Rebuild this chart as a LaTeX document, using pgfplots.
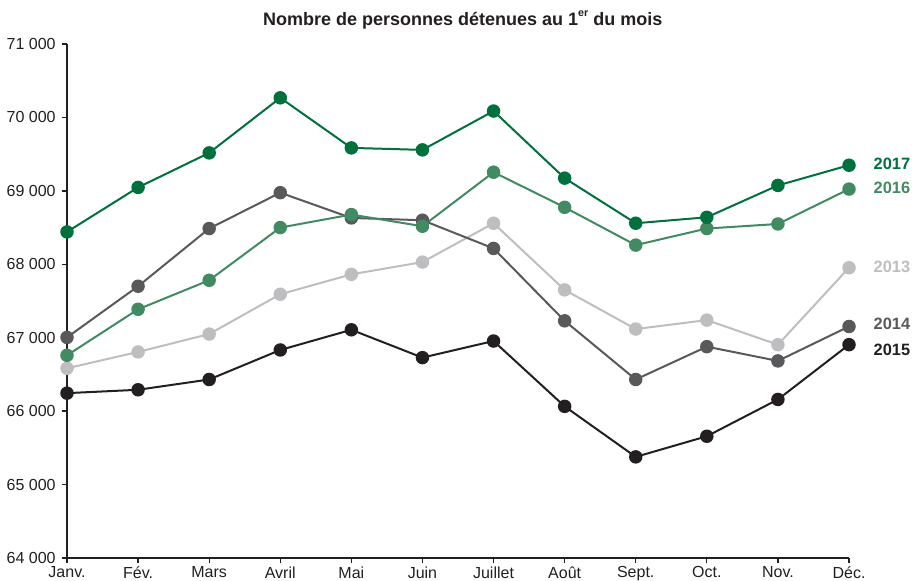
\documentclass[border=0pt]{standalone}
\usepackage{fontspec}
\setmainfont{Liberation Sans}
\usepackage{pgfplots}
\pgfplotsset{compat=1.18}
\definecolor{c2017}{HTML}{00703C}
\definecolor{c2016}{HTML}{418A62}
\definecolor{c2014}{HTML}{59595B}
\definecolor{c2013}{HTML}{BEBEC0}
\definecolor{c2015}{HTML}{231F20}
\definecolor{txt}{HTML}{231F20}
\begin{document}
\begin{tikzpicture}
\begin{axis}[
  scale only axis,
  width=586.5pt, height=385.5pt,
  xmin=0, xmax=11, ymin=64000, ymax=71000,
  clip=false,
  scaled y ticks=false,
  axis x line*=bottom, axis y line*=left,
  axis line style={line width=1.4pt, color=txt, -},
  xtick={0,...,11},
  xticklabels={Janv.,Fév.,Mars,Avril,Mai,Juin,Juillet,Août,Sept.,Oct.,Nov.,Déc.},
  ytick={64000,65000,...,71000},
  yticklabels={64 000,65 000,66 000,67 000,68 000,69 000,70 000,71 000},
  tick align=outside,
  major tick length=4pt,
  tick style={line width=1pt, color=txt},
  xtick pos=bottom, ytick pos=left,
  ticklabel style={font=\fontsize{12pt}{14pt}\selectfont, text=txt},
  yticklabel style={xshift=-1pt},
  xticklabel style={yshift=1pt},
  title={\textbf{Nombre de personnes détenues au 1\raisebox{0.45em}{\fontsize{8pt}{9pt}\selectfont er} du mois}},
  title style={at={(0.506,1)}, anchor=center, yshift=12pt, font=\fontsize{13.5pt}{15pt}\selectfont, text=txt},
  every axis plot/.append style={line width=1.5pt, mark=*, mark size=4.3pt},
]
\addplot[c2013, mark options={fill=c2013, draw=c2013}] coordinates {
(0,66584) (1,66806) (2,67050) (3,67592) (4,67863) (5,68030)
(6,68559) (7,67651) (8,67118) (9,67240) (10,66905) (11,67953)};
\addplot[c2015, mark options={fill=c2015, draw=c2015}] coordinates {
(0,66245) (1,66291) (2,66431) (3,66833) (4,67108) (5,66729)
(6,66955) (7,66065) (8,65377) (9,65658) (10,66159) (11,66905)};
\addplot[c2014, mark options={fill=c2014, draw=c2014}] coordinates {
(0,67004) (1,67701) (2,68487) (3,68975) (4,68631) (5,68600)
(6,68216) (7,67230) (8,66431) (9,66878) (10,66684) (11,67153)};
\addplot[c2016, mark options={fill=c2016, draw=c2016}] coordinates {
(0,66760) (1,67387) (2,67782) (3,68500) (4,68677) (5,68518)
(6,69254) (7,68776) (8,68261) (9,68487) (10,68549) (11,69024)};
\addplot[c2017, mark options={fill=c2017, draw=c2017}] coordinates {
(0,68441) (1,69047) (2,69517) (3,70267) (4,69585) (5,69558)
(6,70087) (7,69173) (8,68559) (9,68640) (10,69074) (11,69349)};
\node[anchor=west, text=c2017, font=\bfseries\fontsize{12.3pt}{14pt}\selectfont, xshift=15pt, yshift=1pt] at (axis cs:11,69349) {2017};
\node[anchor=west, text=c2016, font=\bfseries\fontsize{12.3pt}{14pt}\selectfont, xshift=15pt, yshift=1pt] at (axis cs:11,69024) {2016};
\node[anchor=west, text=c2013, font=\bfseries\fontsize{12.3pt}{14pt}\selectfont, xshift=15pt, yshift=1pt] at (axis cs:11,67953) {2013};
\node[anchor=west, text=c2014, font=\bfseries\fontsize{12.3pt}{14pt}\selectfont, xshift=15pt, yshift=2pt] at (axis cs:11,67153) {2014};
\node[anchor=west, text=c2015, font=\bfseries\fontsize{12.3pt}{14pt}\selectfont, xshift=15pt, yshift=-3.5pt] at (axis cs:11,66905) {2015};
\end{axis}
\pgfresetboundingbox
\path[use as bounding box] (-50.25pt,-17.25pt) rectangle (637.5pt,418.5pt);
\end{tikzpicture}
\end{document}
